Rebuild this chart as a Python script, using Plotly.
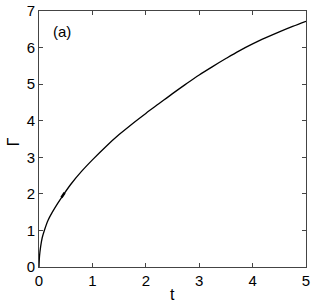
import plotly.graph_objects as go

t = [0, 0.01, 0.03, 0.06, 0.1, 0.17, 0.25, 0.35, 0.45, 0.6, 0.8, 1.0, 1.25, 1.5,
     1.75, 2.0, 2.25, 2.5, 2.75, 3.0, 3.25, 3.5, 3.75, 4.0, 4.25, 4.5, 4.75, 5.0]
gamma = [0, 0.3, 0.55, 0.8, 1.0, 1.28, 1.5, 1.74, 1.96, 2.27, 2.62, 2.93, 3.29, 3.62,
         3.92, 4.2, 4.47, 4.74, 5.0, 5.25, 5.48, 5.7, 5.91, 6.1, 6.27, 6.43, 6.58, 6.72]
glitch_t = [0.42, 0.48]
glitch_g = [1.9, 2.03]

x_ticks = [0, 1, 2, 3, 4, 5]
y_ticks = [0, 1, 2, 3, 4, 5, 6, 7]

fig = go.Figure()
fig.add_trace(go.Scatter(x=t, y=gamma, mode="lines", line=dict(color="black", width=1.3, shape="spline", smoothing=1.0), showlegend=False))
fig.add_trace(go.Scatter(x=glitch_t, y=glitch_g, mode="lines", line=dict(color="black", width=2.4), showlegend=False))

fam = "Liberation Sans, Arial, sans-serif"
font = dict(family=fam, size=15, color="black")
axis_common = dict(showgrid=False, zeroline=False, showline=True, linecolor="#444", linewidth=1,
                   mirror="ticks", ticks="inside", ticklen=4, tickcolor="#444", tickfont=font,
                   ticklabeloverflow="allow", automargin=False)

fig.update_layout(
    width=314, height=305,
    autosize=False,
    margin=dict(l=39, r=8, t=11, b=38, pad=0, autoexpand=False),
    plot_bgcolor="white", paper_bgcolor="white",
    font=font,
    xaxis=dict(range=[0, 5], tickvals=x_ticks, **axis_common),
    yaxis=dict(range=[0, 7], tickvals=y_ticks, **axis_common),
    annotations=[
        dict(text="(a)", x=0.045, y=0.918, xref="paper", yref="paper", xanchor="left", yanchor="middle",
             showarrow=False, font=dict(family=fam, size=15, color="black")),
        dict(text="t", x=0.5, y=-0.065, xref="paper", yref="paper", xanchor="center", yanchor="top",
             showarrow=False, font=dict(family=fam, size=16, color="black")),
        dict(text="Γ", x=-0.095, y=0.49, xref="paper", yref="paper", xanchor="center", yanchor="middle",
             textangle=-90, showarrow=False, font=dict(family=fam, size=16, color="black")),
    ],
)

fig.write_html("out.html", config={"displayModeBar": False},
               post_script="document.body.style.margin='0';document.body.style.padding='0';")
